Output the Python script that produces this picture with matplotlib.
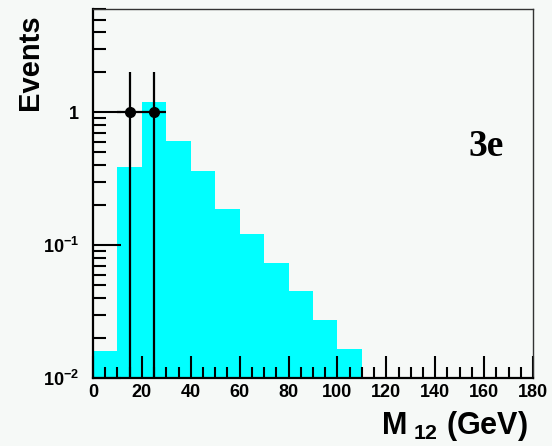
import matplotlib
matplotlib.use("Agg")
import matplotlib.pyplot as plt
import numpy as np
from matplotlib.ticker import FixedLocator, LogLocator, NullFormatter

plt.rcParams['mathtext.fontset'] = 'custom'
plt.rcParams['mathtext.rm'] = 'Liberation Sans:bold'
plt.rcParams['mathtext.bf'] = 'Liberation Sans:bold'
plt.rcParams['mathtext.it'] = 'Liberation Sans:bold'

# Data
bin_edges = [0, 10, 20, 30, 40, 50, 60, 70, 80, 90, 100, 110, 120]
mc_counts = [0.016, 0.386, 1.19, 0.61, 0.364, 0.187, 0.121, 0.0733, 0.0448, 0.0274, 0.0166, 0.0]
data_x = [15, 25]
data_y = [1, 1]
data_xerr = [5, 5]
data_yerr_lo = [1, 1]
data_yerr_hi = [1, 1]
xtick_vals = [0, 20, 40, 60, 80, 100, 120, 140, 160, 180]
ytick_vals = [0.01, 0.1, 1]
ytick_labels = [r'$10^{-2}$', r'$10^{-1}$', r'$1$']

bg = '#f6f9f7'
fig = plt.figure(figsize=(5.52, 4.46), dpi=100, facecolor=bg)
ax = fig.add_axes([93/552, 68/446, 440/552, 369/446], facecolor=bg)

ax.stairs(mc_counts, bin_edges, fill=True, color='#00ffff', linewidth=0, baseline=1e-5)
ax.errorbar(data_x, data_y, xerr=data_xerr, yerr=[data_yerr_lo, data_yerr_hi],
            fmt='o', color='black', ms=7, elinewidth=1.6, capsize=0, zorder=5)

ax.set_yscale('log')
ax.set_xlim(0, 180)
ax.set_ylim(0.01, 6)

ax.set_xticks(xtick_vals)
ax.xaxis.set_minor_locator(FixedLocator(np.arange(0, 181, 5)))
ax.set_yticks(ytick_vals)
ax.set_yticklabels(ytick_labels)
ax.yaxis.set_minor_locator(LogLocator(base=10, subs=np.arange(2, 10)))
ax.yaxis.set_minor_formatter(NullFormatter())

ax.tick_params(axis='both', which='major', direction='in', width=1.5, color='black')
ax.tick_params(axis='x', which='major', length=16, pad=4)
ax.tick_params(axis='x', which='minor', direction='in', length=8, width=1.5)
ax.tick_params(axis='y', which='major', length=20, pad=10)
ax.tick_params(axis='y', which='minor', direction='in', length=9, width=1.5)
for lab in ax.get_xticklabels():
    lab.set_fontfamily('Liberation Sans')
    lab.set_fontweight('bold')
    lab.set_fontsize(13)
for lab in ax.get_yticklabels():
    lab.set_fontsize(13)

ax.spines['left'].set_linewidth(1.6)
ax.spines['bottom'].set_linewidth(1.6)
ax.spines['top'].set_linewidth(1.0)
ax.spines['right'].set_linewidth(1.0)
ax.spines['top'].set_color('#333333')
ax.spines['right'].set_color('#333333')

fig.text(30/552, 1 - 62/446, 'Events', rotation=90, ha='center', va='center',
         fontsize=21, fontweight='bold', family='Liberation Sans')
fig.text(528/552, 1 - 426/446, r'M$_{\ 12}$ (GeV)', ha='right', va='center',
         fontsize=22, family='Liberation Sans', fontweight='bold')
ax.text(486/552, 1 - 147/446, '3e', transform=fig.transFigure, ha='center', va='center',
        fontsize=27, fontweight='bold', family='Liberation Serif')

fig.savefig('out.png', dpi=100, facecolor=bg)
